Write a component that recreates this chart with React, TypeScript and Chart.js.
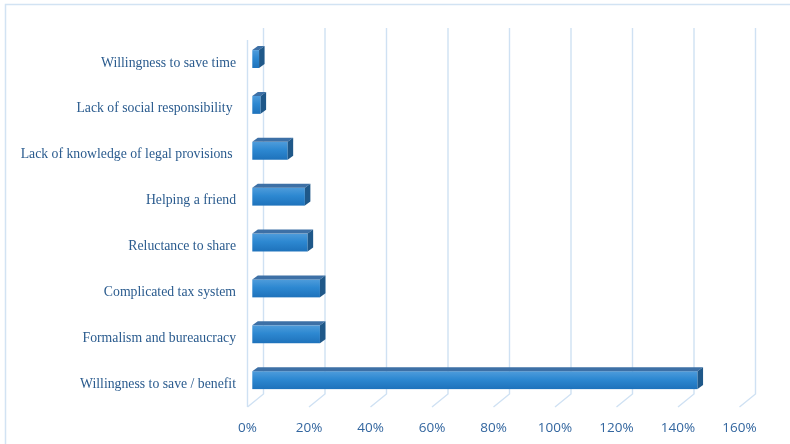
import React, { useEffect, useRef } from "react";
import { Chart, registerables } from "chart.js";

Chart.register(...registerables);

const categories = [
  "Willingness to save time",
  "Lack of social responsibility ",
  "Lack of knowledge of legal provisions ",
  "Helping a friend",
  "Reluctance to share",
  "Complicated tax system",
  "Formalism and bureaucracy",
  "Willingness to save / benefit",
];
const values = [2.2, 2.7, 11.5, 17.1, 18, 22, 22, 144.8];
const xMin = 0;
const xMax = 160;
const xStep = 20;

const GRID = "#cfe1f3";
const LABEL_COLOR = "#2a5b8e";
const TICK_COLOR = "#33669f";

const threeD = {
  id: "threeD",
  beforeDatasetsDraw(chart: any) {
    const { ctx, chartArea, scales } = chart;
    const { left, top, bottom } = chartArea;
    const x = scales.x;
    ctx.save();
    ctx.strokeStyle = "#d2e3f3";
    ctx.lineWidth = 1.5;
    ctx.strokeRect(5.5, 4.5, 800, 460);
    ctx.strokeStyle = GRID;
    ctx.lineWidth = 1.4;
    x.ticks.forEach((t: any) => {
      const px = x.getPixelForValue(t.value);
      ctx.beginPath();
      ctx.moveTo(px, bottom);
      ctx.lineTo(px + 16, bottom - 13);
      ctx.lineTo(px + 16, top - 12);
      ctx.stroke();
    });
    ctx.beginPath();
    ctx.moveTo(left, top);
    ctx.lineTo(left, bottom);
    ctx.stroke();
    ctx.restore();
  },
  afterDatasetsDraw(chart: any) {
    const { ctx } = chart;
    const meta = chart.getDatasetMeta(0);
    const ox = 4.8;
    const oy = -3.9;
    const ddx = 5.5;
    const ddy = -4;
    ctx.save();
    meta.data.forEach((bar: any) => {
      const p = bar.getProps(["x", "y", "base", "height"], true);
      const x0 = p.base + ox;
      const x1 = p.x + ox;
      const yT = p.y - p.height / 2 + oy;
      const yB = p.y + p.height / 2 + oy;
      const g = ctx.createLinearGradient(0, yT, 0, yB);
      g.addColorStop(0, "#4e9cdb");
      g.addColorStop(0.45, "#2d88d1");
      g.addColorStop(1, "#1e72bb");
      ctx.fillStyle = g;
      ctx.fillRect(x0, yT, x1 - x0, yB - yT);
      ctx.fillStyle = "#3d70a6";
      ctx.beginPath();
      ctx.moveTo(x0, yT);
      ctx.lineTo(x1, yT);
      ctx.lineTo(x1 + ddx, yT + ddy);
      ctx.lineTo(x0 + ddx, yT + ddy);
      ctx.closePath();
      ctx.fill();
      ctx.fillStyle = "#1f5889";
      ctx.beginPath();
      ctx.moveTo(x1, yT);
      ctx.lineTo(x1 + ddx, yT + ddy);
      ctx.lineTo(x1 + ddx, yB + ddy);
      ctx.lineTo(x1, yB);
      ctx.closePath();
      ctx.fill();
    });
    ctx.restore();
  },
};

export default function App() {
  const ref = useRef<HTMLCanvasElement | null>(null);
  useEffect(() => {
    document.body.style.margin = "0";
    const canvas = ref.current!;
    const chart = new Chart(canvas, {
      type: "bar",
      data: {
        labels: categories,
        datasets: [
          {
            data: values,
            backgroundColor: "rgba(0,0,0,0)",
            borderWidth: 0,
            categoryPercentage: 1,
            barPercentage: 0.39,
          },
        ],
      },
      options: {
        indexAxis: "y",
        responsive: false,
        animation: false,
        devicePixelRatio: 1,
        layout: { padding: { left: 0, right: 50.5, top: 40, bottom: 0 } },
        plugins: {
          legend: { display: false },
          tooltip: { enabled: false },
        },
        scales: {
          x: {
            min: xMin,
            max: xMax,
            grid: { display: false, drawTicks: false },
            border: { display: false },
            ticks: {
              stepSize: xStep,
              padding: 13,
              color: TICK_COLOR,
              font: { family: "'Open Sans', 'Noto Sans', sans-serif", size: 13.5 },
              callback: (v: any) => `${v}%`,
            },
            afterFit: (s: any) => {
              s.height = 37;
            },
          },
          y: {
            grid: { display: false, drawTicks: false },
            border: { display: false },
            ticks: {
              padding: 11.5,
              color: LABEL_COLOR,
              font: { family: "'Liberation Serif', 'Times New Roman', 'DejaVu Serif', serif", size: 13.75 },
            },
            afterFit: (s: any) => {
              s.width = 247.5;
            },
          },
        },
      },
      plugins: [threeD],
    });
    return () => chart.destroy();
  }, []);
  return (
    <div style={{ width: 790, height: 444 }}>
      <canvas ref={ref} width={790} height={444} />
    </div>
  );
}
